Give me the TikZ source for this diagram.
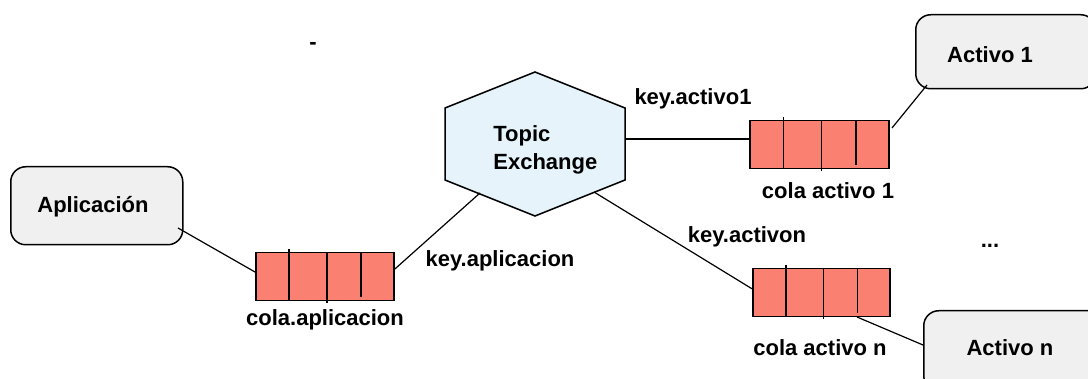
\documentclass[tikz,border=0pt]{standalone}
\usepackage{fontspec}
\setmainfont{Liberation Sans}
\usetikzlibrary{calc}

\tikzset{
  lbl/.style={font=\fontsize{11}{13}\selectfont\bfseries, text=black, inner sep=0pt},
  endpoint/.style={draw=black, line width=0.75pt, fill=black!6, rounded corners=7.5pt,
    minimum width=86pt, minimum height=37pt, inner sep=0pt},
  queue/.style={draw=black, line width=0.75pt, fill=salmon, minimum width=69.5pt,
    minimum height=24pt, inner sep=0pt},
  qline/.style={black, line width=0.8pt},
  link/.style={black, line width=0.6pt},
}
\definecolor{salmon}{HTML}{FA8072}
\definecolor{hexfill}{HTML}{E6F3FA}

% a queue: rectangle with three slot dividers (name, left x, top y, width)
\newcommand{\msgqueue}[4]{%
  \node[queue, anchor=north west, minimum width=#4*0.5pt] (#1) at (#2,#3) {};
  \draw[qline] (#2+0.248*#4,#3-3) -- (#2+0.248*#4,#3+48);
  \draw[qline] (#2+0.522*#4,#3) -- (#2+0.522*#4,#3+51);
  \draw[qline] (#2+0.77*#4,#3) -- (#2+0.77*#4,#3+45);
}

\begin{document}
\begin{tikzpicture}[x=0.5pt, y=-0.5pt]
\clip (0,0) rectangle (1088,379);
\fill[white] (0,0) rectangle (1088,379);

% topic exchange hexagon
\draw[line width=0.75pt, fill=hexfill]
  (535,72) -- (625,108) -- (625,180) -- (535,216) -- (445,180) -- (445,108) -- cycle;
\node[lbl, align=left, anchor=west] (hex) at (493,150) {Topic\\[1pt]Exchange};
\coordinate (hexR) at (625,139);
\coordinate (hexLL) at (480,193);
\coordinate (hexLR) at (594,192);

% producer and consumers
\node[endpoint, minimum width=86pt, minimum height=39pt, anchor=north west] (app) at (10,166) {};
\node[lbl] (applbl) at (93,207) {Aplicación};
\node[endpoint, minimum width=90pt, minimum height=37pt, anchor=north west] (act1) at (915,14) {};
\node[lbl] (act1lbl) at (990,55) {Activo 1};
\node[endpoint, minimum width=90pt, minimum height=40pt, anchor=north west] (actn) at (923,310) {};
\node[lbl] (actnlbl) at (1010,348) {Activo n};

% queues
\msgqueue{qapp}{255}{252}{138}
\msgqueue{qa1}{749}{120}{139}
\msgqueue{qan}{752}{268}{137}

% bindings and consumers
\coordinate (appOut) at (178,228);
\coordinate (qa1Out) at (892,128);
\coordinate (act1In) at (927,85);
\coordinate (qanOut) at (857,317);
\draw[link] (appOut) -- (qapp.west |- 0,272);
\draw[link] ($(qapp.north east)!0.35!(qapp.south east)$) -- (hexLL);
\draw[link] (hexR) -- (qa1.west |- hexR);
\draw[link] (qa1Out) -- (act1In);
\draw[link] (hexLR) -- ($(qan.north west)!0.42!(qan.south west)$);
\draw[link] (qanOut) -- (actn.west |- 0,345);

% labels
\node[lbl] (kapp) at (500,261) {key.aplicacion};
\node[lbl] (capp) at (325,320) {cola.aplicacion};
\node[lbl] (ka1) at (693,99) {key.activo1};
\node[lbl] (ca1) at (828,191) {cola activo 1};
\node[lbl] (kan) at (747,237) {key.activon};
\node[lbl] (can) at (820,348) {cola activo n};
\node[lbl] (dots) at (990,246) {...};
\node[lbl] (dash) at (313,46) {-};
\end{tikzpicture}
\end{document}
